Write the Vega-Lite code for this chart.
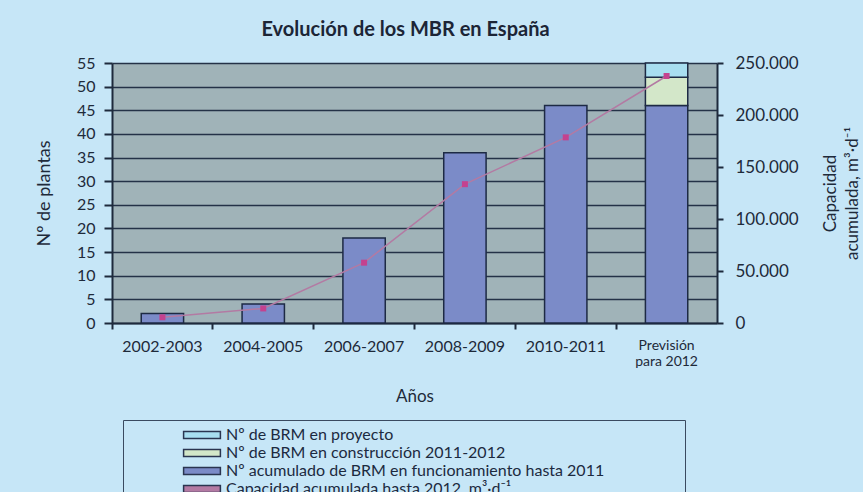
{
  "$schema": "https://vega.github.io/schema/vega-lite/v6.json",
  "width": 605,
  "height": 260,
  "autosize": {"type": "none"},
  "padding": {"left": 112, "top": 63, "right": 146, "bottom": 169},
  "background": "#c6e6f7",
  "title": {"text": "Evolución de los MBR en España", "font": "Lato", "fontSize": 20, "fontWeight": "bold", "color": "#1c2536", "anchor": "middle", "offset": 14, "dx": -9},
  "datasets": {
    "barras": [
      {"periodo": "2002-2003", "serie": "Nº acumulado de BRM en funcionamiento hasta 2011", "orden": 1, "plantas": 2},
      {"periodo": "2004-2005", "serie": "Nº acumulado de BRM en funcionamiento hasta 2011", "orden": 1, "plantas": 4},
      {"periodo": "2006-2007", "serie": "Nº acumulado de BRM en funcionamiento hasta 2011", "orden": 1, "plantas": 18},
      {"periodo": "2008-2009", "serie": "Nº acumulado de BRM en funcionamiento hasta 2011", "orden": 1, "plantas": 36},
      {"periodo": "2010-2011", "serie": "Nº acumulado de BRM en funcionamiento hasta 2011", "orden": 1, "plantas": 46},
      {"periodo": "Previsión para 2012", "serie": "Nº acumulado de BRM en funcionamiento hasta 2011", "orden": 1, "plantas": 46},
      {"periodo": "Previsión para 2012", "serie": "Nº de BRM en construcción 2011-2012", "orden": 2, "plantas": 6},
      {"periodo": "Previsión para 2012", "serie": "Nº de BRM en proyecto", "orden": 3, "plantas": 3}
    ],
    "capacidad": [
      {"periodo": "2002-2003", "capacidad": 5500},
      {"periodo": "2004-2005", "capacidad": 14000},
      {"periodo": "2006-2007", "capacidad": 58000},
      {"periodo": "2008-2009", "capacidad": 133500},
      {"periodo": "2010-2011", "capacidad": 178500},
      {"periodo": "Previsión para 2012", "capacidad": 237500}
    ]
  },
  "layer": [
    {
      "data": {"name": "barras"},
      "mark": {"type": "bar", "width": {"band": 0.42}, "stroke": "#1d2a44", "strokeWidth": 1.5},
      "encoding": {
        "x": {
          "field": "periodo", "type": "nominal",
          "sort": ["2002-2003", "2004-2005", "2006-2007", "2008-2009", "2010-2011", "Previsión para 2012"],
          "scale": {"paddingInner": 0, "paddingOuter": 0},
          "axis": {
            "title": "Años", "titleFont": "Lato", "titleFontSize": 17, "titleFontWeight": "normal", "titleColor": "#1e2a3a", "titlePadding": 20,
            "labelAngle": 0, "labelFont": "Lato", "labelColor": "#1e2a3a",
            "labelFontSize": {"condition": {"test": "datum.value == 'Previsión para 2012'", "value": 14}, "value": 16},
            "labelExpr": "datum.value == 'Previsión para 2012' ? ['Previsión', 'para 2012'] : datum.label",
            "labelLineHeight": 16, "labelPadding": 9,
            "bandPosition": 0, "tickSize": 6, "tickColor": "#1e2a3c", "tickWidth": 2,
            "domainColor": "#1e2a3c", "domainWidth": 2, "grid": false
          }
        },
        "y": {
          "field": "plantas", "type": "quantitative", "stack": "zero",
          "scale": {"domain": [0, 55], "nice": false},
          "axis": {
            "title": "Nº de plantas", "titleFont": "Lato", "titleFontSize": 18, "titleFontWeight": "normal", "titleColor": "#1e2a3a", "titlePadding": 23,
            "values": [0, 5, 10, 15, 20, 25, 30, 35, 40, 45, 50, 55],
            "labelFont": "Lato", "labelFontSize": 16, "labelColor": "#1e2a3a", "labelPadding": 9,
            "tickSize": 8, "tickColor": "#1e2a3c", "tickWidth": 2,
            "domainColor": "#1e2a3c", "domainWidth": 2,
            "grid": true, "gridColor": "#243247", "gridWidth": 1.5
          }
        },
        "color": {
          "field": "serie", "type": "nominal",
          "scale": {
            "domain": ["Nº de BRM en proyecto", "Nº de BRM en construcción 2011-2012", "Nº acumulado de BRM en funcionamiento hasta 2011", "Capacidad acumulada hasta 2012, m³·d⁻¹"],
            "range": ["#a8def0", "#d3e7c9", "#7b8bc8", "#b37aa3"]
          },
          "legend": {
            "orient": "none", "legendX": 11, "legendY": 357,
            "title": " ", "titleOrient": "right", "titlePadding": 74,
            "padding": 7, "strokeColor": "#3a4a60",
            "labelFont": "Lato", "labelFontSize": 16, "labelColor": "#1c2a40", "labelLimit": 0,
            "symbolSize": 64, "symbolOffset": 64, "labelOffset": 16, "rowPadding": 2,
            "symbolType": "M-4.6,-0.85H4.6V0.85H-4.6Z",
            "symbolStrokeColor": "#2a3550", "symbolStrokeWidth": 1.5, "symbolOpacity": 1
          }
        },
        "order": {"field": "orden", "type": "quantitative"}
      }
    },
    {
      "data": {"name": "capacidad"},
      "encoding": {
        "x": {"field": "periodo", "type": "nominal", "sort": ["2002-2003", "2004-2005", "2006-2007", "2008-2009", "2010-2011", "Previsión para 2012"]},
        "y": {
          "field": "capacidad", "type": "quantitative",
          "scale": {"domain": [0, 250000], "nice": false},
          "axis": {
            "orient": "right",
            "title": ["Capacidad", "acumulada, m³·d⁻¹"], "titleAngle": 270, "titleFont": "Lato", "titleFontSize": 17, "titleFontWeight": "normal", "titleColor": "#1e2a3a", "titleLineHeight": 22, "titlePadding": 19,
            "values": [0, 50000, 100000, 150000, 200000, 250000],
            "labelExpr": "replace(format(datum.value, ','), ',', '.')",
            "labelFont": "Lato", "labelFontSize": 17, "labelColor": "#1e2a3a", "labelPadding": 12,
            "tickSize": 6, "tickColor": "#1e2a3c", "tickWidth": 2,
            "domainColor": "#1e2a3c", "domainWidth": 2, "grid": false
          }
        }
      },
      "layer": [
        {"mark": {"type": "line", "strokeWidth": 1.5, "color": "#b37aa3"}, "encoding": {}},
        {"mark": {"type": "point", "shape": "square", "filled": true, "size": 36, "color": "#c4428f", "opacity": 1}}
      ]
    }
  ],
  "resolve": {"scale": {"y": "independent"}},
  "config": {
    "font": "Lato",
    "view": {"fill": "#a0b3b8", "stroke": null}
  }
}
